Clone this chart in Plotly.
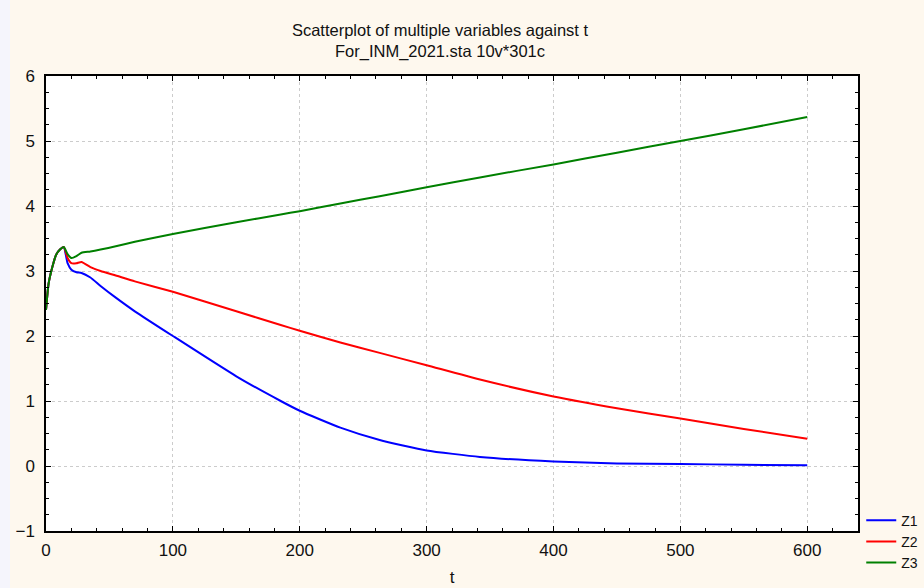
import plotly.graph_objects as go

t = [0, 2, 5, 8, 11, 14, 17, 20, 24, 28, 35, 43, 55, 70, 100, 150, 185, 200, 232, 263,
     300, 342, 400, 450, 500, 550, 600]
z1 = [2.40, 2.80, 3.06, 3.25, 3.33, 3.37, 3.12, 3.02, 2.98, 2.97, 2.90, 2.77, 2.59, 2.38, 2.00,
      1.38, 1.00, 0.85, 0.59, 0.40, 0.24, 0.14, 0.07, 0.04, 0.03, 0.02, 0.01]
z2 = [2.40, 2.80, 3.06, 3.25, 3.33, 3.37, 3.20, 3.12, 3.12, 3.14, 3.06, 3.00, 2.93, 2.84, 2.68,
      2.38, 2.17, 2.08, 1.90, 1.74, 1.55, 1.33, 1.07, 0.89, 0.73, 0.57, 0.42]
z3 = [2.40, 2.80, 3.06, 3.25, 3.33, 3.37, 3.26, 3.20, 3.23, 3.28, 3.30, 3.33, 3.38, 3.45, 3.57,
      3.75, 3.87, 3.92, 4.04, 4.15, 4.29, 4.44, 4.64, 4.82, 5.00, 5.18, 5.37]

series = [("Z1", z1, "#0000ff"), ("Z2", z2, "#ff0000"), ("Z3", z3, "#008000")]

FONT = "Liberation Sans, Arial, sans-serif"
INK = "#111111"

fig = go.Figure()
for name, ys, col in series:
    fig.add_trace(go.Scatter(x=t, y=ys, mode="lines", name=name,
                             line=dict(color=col, width=2, shape="spline", smoothing=0.5)))

axis_common = dict(
    showline=True, linecolor="#000000", linewidth=1.5, mirror="ticks",
    ticks="inside", ticklen=5, tickcolor="#000000", tickwidth=1,
    showgrid=True, gridcolor="#cccccc", griddash="dot", gridwidth=1,
    zeroline=False,
    tickfont=dict(family=FONT, size=17, color=INK),
)

fig.update_layout(
    width=924, height=588,
    paper_bgcolor="#fef8ee", plot_bgcolor="#ffffff",
    margin=dict(l=46, r=66, t=76, b=57, autoexpand=False),
    title=dict(text="Scatterplot of multiple variables against t<br>For_INM_2021.sta 10v*301c",
               x=440/924, xanchor="center", y=1-36/588, yanchor="top",
               font=dict(family=FONT, size=16.5, color=INK)),
    xaxis=dict(range=[0, 640], dtick=100, tick0=0, ticklabelstandoff=3,
               minor=dict(dtick=20, ticks="inside", ticklen=3, tickcolor="#000000", showgrid=False),
               title=dict(text="t", font=dict(family=FONT, size=17, color=INK), standoff=12),
               **axis_common),
    yaxis=dict(range=[-1, 6], dtick=1, tick0=0, ticklabelstandoff=6,
               minor=dict(dtick=0.25, ticks="inside", ticklen=3, tickcolor="#000000", showgrid=False),
               **axis_common),
    legend=dict(x=1.004, xanchor="left", y=0.058, yanchor="top",
                bgcolor="rgba(0,0,0,0)", tracegroupgap=0,
                font=dict(family=FONT, size=14, color=INK)),
    shapes=[dict(type="rect", xref="paper", yref="paper", layer="below",
                 x0=-46/812, x1=-36/812, y0=-57/455, y1=1+76/455,
                 fillcolor="#f5f5fc", line=dict(width=0))],
)

fig.write_html("out.html", config={"displayModeBar": False},
               post_script="document.body.style.margin='0';document.body.style.padding='0';")
